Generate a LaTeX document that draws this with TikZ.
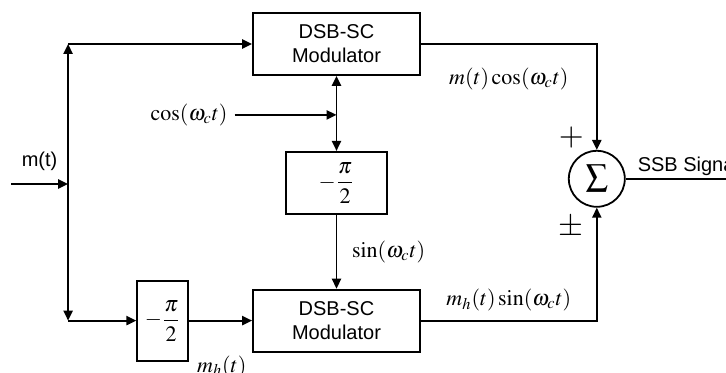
\documentclass[tikz,border=0pt]{standalone}
\usepackage{mathptmx}
\usepackage{fontspec}
\setmainfont{Liberation Serif}
\setsansfont{Liberation Sans}
\usetikzlibrary{arrows.meta, positioning, calc}

\begin{document}
\begin{tikzpicture}[
    modbox/.style={draw, line width=0.9pt, minimum width=83.5pt, minimum height=31pt, align=center, inner sep=0pt, font=\sffamily\fontsize{10}{12}\selectfont},
    phbox/.style={draw, line width=0.9pt, inner sep=0pt, font=\fontsize{11}{13}\selectfont},
    sumnode/.style={draw, line width=0.9pt, circle, minimum size=28pt, inner sep=0pt, font=\fontsize{11}{13}\selectfont},
    arrow/.style={-{Triangle[length=5pt, width=4.6pt]}, line width=0.9pt},
    wire/.style={line width=0.9pt},
    lbl/.style={font=\fontsize{11}{13}\selectfont},
    sgn/.style={font=\fontsize{16}{18}\selectfont},
    txt/.style={font=\sffamily\fontsize{10}{12}\selectfont},
]
    \useasboundingbox (-168.25pt,22pt) rectangle (194.75pt,-164.5pt);

    % modulators and phase shifters
    \node[modbox] (mod1) {DSB-SC\\Modulator};
    \node[phbox, minimum width=50.5pt, minimum height=31pt, below=37.5pt of mod1] (ph1) {$\displaystyle -\frac{\pi}{2}$};
    \node[modbox, below=37pt of ph1] (mod2) {DSB-SC\\Modulator};
    \node[phbox, minimum width=25.5pt, minimum height=40pt, left=31.5pt of mod2] (ph2) {$\displaystyle -\frac{\pi}{2}$};
    \node[sumnode, right=90pt of ph1, yshift=2pt] (sum) {$\displaystyle\sum$};

    % branch points
    \coordinate[left=92pt of mod1.west] (tl);
    \coordinate[below=70pt of tl] (sp);
    \coordinate (bl) at (tl |- mod2.west);
    \coordinate[left=28.5pt of sp] (in);
    \coordinate[below=19.5pt of mod1.south] (jn);
    \coordinate[left=51pt of jn] (cs);
    \coordinate[right=51.5pt of sum.east] (out);

    % input m(t)
    \draw[arrow] (in) -- node[txt, above=3pt] {m(t)} (sp);
    \draw[arrow] (sp) -- (tl);
    \draw[arrow] (tl) -- (mod1.west);
    \draw[arrow] (sp) -- (bl);
    \draw[arrow] (bl) -- (ph2.west |- bl);
    \draw[arrow] (ph2.east |- mod2.west) -- (mod2.west);
    \node[lbl, below right=-6.5pt and 0.5pt of ph2.south east] (mh) {$m_h(t)$};

    % carrier
    \node[lbl, left=0pt of cs] (coslbl) {$\cos(\omega_c t)$};
    \draw[arrow] (coslbl.east) -- (jn);
    \draw[arrow] (jn) -- (mod1.south);
    \draw[arrow] (jn) -- (ph1.north);
    \draw[arrow] (ph1) -- node[lbl, right=4pt] {$\sin(\omega_c t)$} (mod2);

    % summation
    \draw[arrow] (mod1.east) -| node[lbl, pos=0.25, below=8pt] {$m(t)\cos(\omega_c t)$} (sum.north);
    \draw[arrow] (mod2.east) -| node[lbl, pos=0.25, above=1pt] {$m_h(t)\sin(\omega_c t)$} (sum.south);
    \node[sgn, left=3pt of sum.north, yshift=6pt] (plus) {$+$};
    \node[sgn, left=3pt of sum.south, yshift=-10pt] (pm) {$\pm$};
    \draw[wire] (sum.east) -- (out);
    \node[txt, above right=-2pt and 2.5pt of sum.east] (ssb) {SSB Signal};
\end{tikzpicture}
\end{document}
